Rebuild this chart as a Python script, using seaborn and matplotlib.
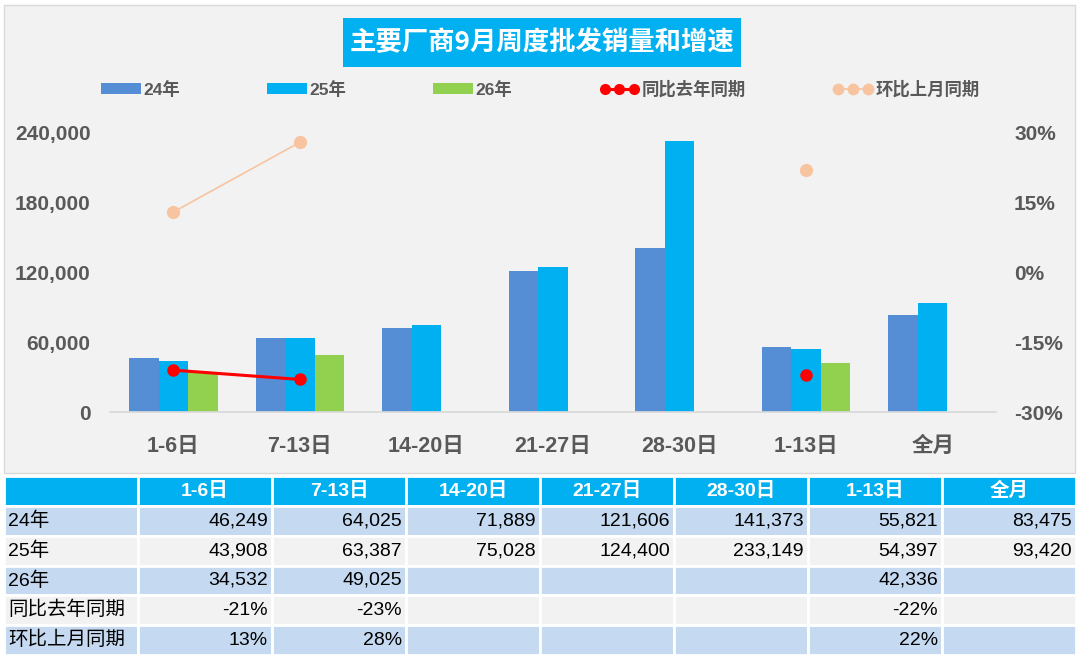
import numpy as np
import pandas as pd
import matplotlib.pyplot as plt
import seaborn as sns
from matplotlib.patches import Rectangle, Patch
from matplotlib.lines import Line2D
from matplotlib.ticker import FuncFormatter

periods = ["1-6日", "7-13日", "14-20日", "21-27日", "28-30日", "1-13日", "全月"]
years = ["24年", "25年", "26年"]
sales_24 = [46249, 64025, 71889, 121606, 141373, 55821, 83475]
sales_25 = [43908, 63387, 75028, 124400, 233149, 54397, 93420]
sales_26 = [34532, 49025, np.nan, np.nan, np.nan, 42336, np.nan]
yoy = [-0.21, -0.23, np.nan, np.nan, np.nan, -0.22, np.nan]
mom = [0.13, 0.28, np.nan, np.nan, np.nan, 0.22, np.nan]
row_labels = ["24年", "25年", "26年", "同比去年同期", "环比上月同期"]

bar_colors = ["#558ed5", "#00b0f0", "#92d050"]
yoy_color = "#ff0000"
mom_color = "#f8c4a0"
text_gray = "#595959"

sns.set_theme(style="white")
plt.rcParams['font.family'] = ['Liberation Sans', 'Noto Sans CJK SC']
plt.rcParams['axes.unicode_minus'] = False

W, H = 1080, 659
fig = plt.figure(figsize=(W / 100, H / 100), dpi=100)
fig.patch.set_facecolor("white")


def fx(px):
    return px / W


def fy(py):
    return 1 - py / H


# chart area background
fig.add_artist(Rectangle((fx(4), fy(473)), fx(1075) - fx(4), fy(5) - fy(473),
                         transform=fig.transFigure, facecolor="#f2f2f2",
                         edgecolor="#d9d9d9", lw=1, zorder=0))

# title box
fig.add_artist(Rectangle((fx(343), fy(67)), (741 - 343) / W, 49 / H,
                         transform=fig.transFigure, facecolor="#00b0f0",
                         edgecolor="none", zorder=1))
fig.text(fx(542), fy(43), "主要厂商9月周度批发销量和增速", color="white",
         fontsize=19, fontweight="bold", ha="center", va="center",
         family=['Noto Sans CJK SC', 'Liberation Sans'], zorder=2)

# bars
df = pd.DataFrame({
    "period": periods * 3,
    "year": np.repeat(years, len(periods)),
    "sales": sales_24 + sales_25 + sales_26,
})

ax = fig.add_axes([fx(110), fy(412), 886 / W, 279 / H])
ax.set_facecolor("none")
sns.barplot(data=df, x="period", y="sales", hue="year", order=periods,
            hue_order=years, palette=bar_colors, width=0.7, saturation=1,
            errorbar=None, legend=False, linewidth=0, ax=ax)
ax.set_xlim(-0.5, len(periods) - 0.5)
ax.set_ylim(0, 240000)
ax.set_yticks(range(0, 240001, 60000))
ax.yaxis.set_major_formatter(FuncFormatter(lambda v, p: f"{v:,.0f}"))
ax.set_xlabel("")
ax.set_ylabel("")
ax.grid(False)
for s in ["top", "left", "right"]:
    ax.spines[s].set_visible(False)
ax.spines["bottom"].set_color("#d9d9d9")
ax.tick_params(axis="y", length=0, pad=14, labelsize=15, labelcolor=text_gray)
ax.tick_params(axis="x", length=0, pad=17, labelsize=15.5, labelcolor=text_gray)
for lab in ax.get_xticklabels() + ax.get_yticklabels():
    lab.set_fontweight("bold")

# growth lines on the right axis
ax2 = ax.twinx()
x = np.arange(len(periods))
ax2.plot(x, yoy, color=yoy_color, lw=2.2, marker="o", ms=8)
ax2.plot(x, mom, color=mom_color, lw=1.2, marker="o", ms=8.5)
ax2.set_ylim(-0.3, 0.3)
ax2.set_yticks([-0.3, -0.15, 0, 0.15, 0.3])
ax2.yaxis.set_major_formatter(FuncFormatter(lambda v, p: f"{v:.0%}"))
ax2.grid(False)
for s in ax2.spines.values():
    s.set_visible(False)
ax2.tick_params(axis="y", length=0, pad=13, labelsize=15, labelcolor=text_gray)
for lab in ax2.get_yticklabels():
    lab.set_fontweight("bold")

# legend
handles = [Patch(facecolor=c, edgecolor="none") for c in bar_colors]
handles += [Line2D([], [], color=yoy_color, lw=2.2, marker="o", ms=7),
            Line2D([], [], color=mom_color, lw=1.2, marker="o", ms=7.5)]
leg = fig.legend(handles, years + ["同比去年同期", "环比上月同期"],
                 loc="center left", bbox_to_anchor=(fx(101), fy(89)), ncol=5,
                 frameon=False, borderpad=0, borderaxespad=0, handlelength=2.3,
                 handleheight=0.6, handletextpad=0.15, columnspacing=5.0,
                 numpoints=3, prop=dict(weight="bold", size=12.5))
for t in leg.get_texts():
    t.set_color(text_gray)

# table below the chart
axt = fig.add_axes([fx(4), fy(655), 1072 / W, 179 / H])
axt.set_xlim(0, len(periods) + 1)
axt.set_ylim(len(row_labels) + 1, 0)
axt.axis("off")

row_colors = ["#c5d9f1", "#f2f2f2", "#c5d9f1", "#f2f2f2", "#c5d9f1"]
row_values = [
    [f"{v:,.0f}" for v in sales_24],
    [f"{v:,.0f}" for v in sales_25],
    ["" if np.isnan(v) else f"{v:,.0f}" for v in sales_26],
    ["" if np.isnan(v) else f"{v:.0%}" for v in yoy],
    ["" if np.isnan(v) else f"{v:.0%}" for v in mom],
]

for c, head in enumerate([""] + periods):
    axt.add_patch(Rectangle((c, 0), 1, 1, facecolor="#00b0f0",
                            edgecolor="white", lw=2))
    axt.text(c + 0.5, 0.5, head, color="white", fontsize=14,
             fontweight="bold", ha="center", va="center")

for r, (label, vals) in enumerate(zip(row_labels, row_values), start=1):
    for c in range(len(periods) + 1):
        axt.add_patch(Rectangle((c, r), 1, 1, facecolor=row_colors[r - 1],
                                edgecolor="white", lw=2))
    axt.text(0.03, r + 0.5, label, color="black", fontsize=14,
             ha="left", va="center")
    for c, v in enumerate(vals, start=1):
        axt.text(c + 0.97, r + 0.5, v, color="black", fontsize=14,
                 ha="right", va="center")

fig.savefig("out.png", dpi=100)
